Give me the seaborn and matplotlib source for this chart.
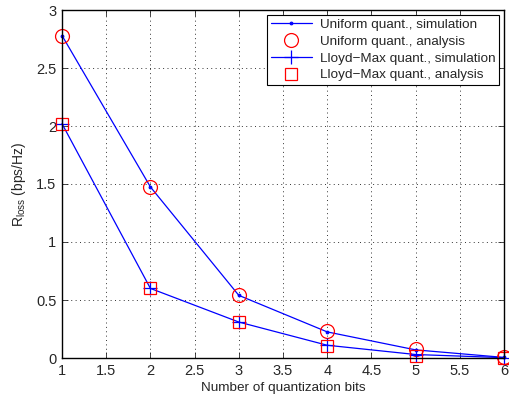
import numpy as np
import pandas as pd
import seaborn as sns
import matplotlib.pyplot as plt

# Data
bits = [1, 2, 3, 4, 5, 6]
uniform_sim = [2.78, 1.475, 0.54, 0.225, 0.07, 0.005]
uniform_ana = [2.78, 1.47, 0.545, 0.23, 0.08, 0.005]
lloyd_sim = [2.02, 0.60, 0.31, 0.11, 0.03, 0.003]
lloyd_ana = [2.02, 0.60, 0.31, 0.10, 0.02, 0.003]

sns.set_style("ticks")
plt.rcParams['font.family'] = ['Liberation Sans', 'DejaVu Sans']
plt.rcParams['mathtext.fontset'] = 'custom'
plt.rcParams['mathtext.rm'] = 'Liberation Sans'
plt.rcParams['mathtext.it'] = 'Liberation Sans:italic'

df = pd.DataFrame({'bits': bits, 'us': uniform_sim, 'ua': uniform_ana,
                   'ls': lloyd_sim, 'la': lloyd_ana})

fig = plt.figure(figsize=(5.09, 3.99), dpi=100)
ax = fig.add_axes([62 / 509, 1 - 358 / 399, (504 - 62) / 509, (358 - 10) / 399])

sns.lineplot(data=df, x='bits', y='us', ax=ax, color='blue', lw=0.9,
             marker='.', markersize=4, markeredgecolor='blue', clip_on=False,
             label='Uniform quant., simulation')
ax.plot(df['bits'], df['ua'], ls='none', marker='o', markersize=10,
        markerfacecolor='none', markeredgecolor='red', mew=0.9, clip_on=False,
        label='Uniform quant., analysis')
sns.lineplot(data=df, x='bits', y='ls', ax=ax, color='blue', lw=0.9,
             marker='+', markersize=10, markeredgecolor='blue', mew=0.9, clip_on=False,
             label='Lloyd\u2212Max quant., simulation')
ax.plot(df['bits'], df['la'], ls='none', marker='s', markersize=9,
        markerfacecolor='none', markeredgecolor='red', mew=0.9, clip_on=False,
        label='Lloyd\u2212Max quant., analysis')

ax.set_xlim(1, 6)
ax.set_ylim(0, 3)
ax.set_xticks(np.arange(1, 6.01, 0.5))
ax.set_xticklabels(['1', '1.5', '2', '2.5', '3', '3.5', '4', '4.5', '5', '5.5', '6'])
ax.set_yticks(np.arange(0, 3.01, 0.5))
ax.set_yticklabels(['0', '0.5', '1', '1.5', '2', '2.5', '3'])
ax.grid(True, linestyle=(0, (1, 3.5)), color='black', lw=0.7, alpha=0.8)
ax.tick_params(direction='in', top=True, right=True, labelsize=10.5, length=4, width=0.6, pad=4)
for s in ax.spines.values():
    s.set_linewidth(1.0)
    s.set_color('black')

ax.set_xlabel('Number of quantization bits', fontsize=9.7, labelpad=3)
ax.set_ylabel(r'R$_{\mathrm{loss}}$ (bps/Hz)', fontsize=10, labelpad=6)

leg = ax.legend(loc='upper right', fontsize=9.7, frameon=True, fancybox=False,
                borderaxespad=0.35, handlelength=3.0, handletextpad=0.6,
                labelspacing=0.32, borderpad=0.3)
leg.get_frame().set_edgecolor('black')
leg.get_frame().set_linewidth(0.8)
leg.get_frame().set_alpha(1)

fig.savefig('out.png', dpi=100)
